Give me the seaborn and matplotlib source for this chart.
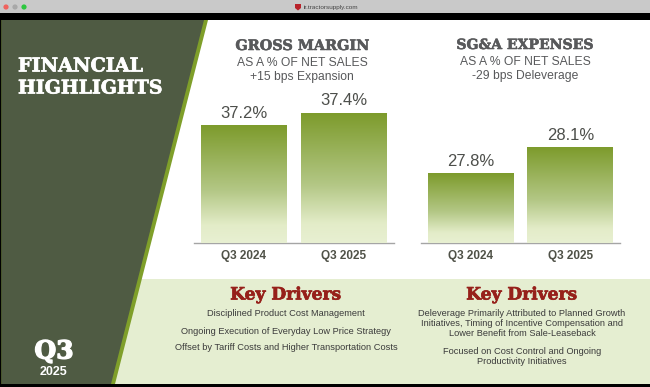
import matplotlib
matplotlib.use("Agg")
import matplotlib.pyplot as plt
import matplotlib.patheffects as pe
from matplotlib.patches import Polygon, Rectangle, Circle
from matplotlib.colors import LinearSegmentedColormap
import numpy as np
import pandas as pd
import seaborn as sns

categories = ["Q3 2024", "Q3 2025"]
gross_margin = [37.2, 37.4]
sga_expenses = [27.8, 28.1]
gm_titles = ["GROSS MARGIN", "AS A % OF NET SALES", "+15 bps Expansion"]
sga_titles = ["SG&A EXPENSES", "AS A % OF NET SALES", "-29 bps Deleverage"]
left_drivers = ["Disciplined Product Cost Management",
                "Ongoing Execution of Everyday Low Price Strategy",
                "Offset by Tariff Costs and Higher Transportation Costs"]
right_drivers = ["Deleverage Primarily Attributed to Planned Growth",
                 "Initiatives, Timing of Incentive Compensation and",
                 "Lower Benefit from Sale-Leaseback",
                 "Focused on Cost Control and Ongoing",
                 "Productivity Initiatives"]

W, H = 650, 387
sns.set_theme(style="white")
SANS = "Liberation Sans"
SLAB = "DejaVu Serif"
plt.rcParams["font.family"] = [SANS, "DejaVu Sans"]
fig = plt.figure(figsize=(6.5, 3.87), dpi=100, facecolor="white")

bg = fig.add_axes([0, 0, 1, 1], zorder=0)
bg.set_xlim(0, W); bg.set_ylim(H, 0); bg.axis("off")
bg.add_patch(Rectangle((0, 0), W, 13, color="#c9c9c9", lw=0))
bg.add_patch(Rectangle((0, 13), W, 7, color="black", lw=0))
bg.add_patch(Rectangle((0, 384), W, 3, color="black", lw=0))
bg.add_patch(Rectangle((0, 20), 1.5, 364, color="black", lw=0))
bg.add_patch(Rectangle((100, 279), W - 100, 105, color="#e5eed1", lw=0))
bg.add_patch(Polygon([(1.5, 20), (208, 20), (115, 384), (1.5, 384)], color="#7f9f2a", lw=0))
bg.add_patch(Polygon([(1.5, 20), (204, 20), (111, 384), (1.5, 384)], color="#4f5b43", lw=0))
for x, c in [(6, "#f0625d"), (15, "#a8a8a8"), (24, "#2dc73f")]:
    bg.add_patch(Circle((x, 7), 2.6, color=c, lw=0))
bg.add_patch(Polygon([(295, 4), (301, 4), (301, 8), (298, 10.5), (295, 8)], color="#b8222a", lw=0))
bg.text(304, 7, "ir.tractorsupply.com", fontsize=4.6, color="#444444", va="center", ha="left")

def slab(x, y, s, size, color, stroke=0.5, ha="left"):
    t = bg.text(x, y, s, family=SLAB, weight="bold", fontsize=size, color=color, ha=ha, va="center")
    t.set_path_effects([pe.withStroke(linewidth=stroke, foreground=color)])
    return t

slab(18, 66.5, "FINANCIAL", 13.8, "white")
slab(18, 88.5, "HIGHLIGHTS", 13.6, "white")
slab(54, 351.5, "Q3", 18, "white", 1.0, "center")
bg.text(54, 372, "2025", weight="bold", fontsize=9, color="white", va="center", ha="center")

def titles(cx, ys, lines, size):
    slab(cx, ys[0], lines[0], size, "#58595b", 0.4, "center")
    bg.text(cx, ys[1], lines[1], fontsize=8.75, color="#58595b", ha="center", va="center")
    bg.text(cx, ys[2], lines[2], fontsize=8.75, color="#58595b", ha="center", va="center")

titles(302, (46, 63, 77), gm_titles, 10.4)
titles(525, (45, 62, 76), sga_titles, 10.1)

RED = "#96201a"
slab(286, 295, "Key Drivers", 12.3, RED, 0.5, "center")
slab(522, 295, "Key Drivers", 12.3, RED, 0.5, "center")
for y, t in zip((313, 331, 347), left_drivers):
    bg.text(286, y, t, fontsize=6.7, color="#3b3b3b", ha="center", va="center")
for y, t in zip((313, 324, 334, 351, 361), right_drivers):
    bg.text(522, y, t, fontsize=6.7, color="#3b3b3b", ha="center", va="center")

cmap = LinearSegmentedColormap.from_list("g", [(0, "#7d9b2c"), (0.55, "#b3c785"), (0.85, "#e3ecc8"), (1, "#e8f0d2")])
grad = np.linspace(0, 1, 256).reshape(-1, 1)

def panel(x0, x1, values, base, top):
    ax_top, ax_bot = 90, 243
    ax = fig.add_axes([x0 / W, 1 - ax_bot / H, (x1 - x0) / W, (ax_bot - ax_top) / H], zorder=2)
    ax.patch.set_alpha(0)
    df = pd.DataFrame({"q": categories, "v": values})
    sns.barplot(data=df, x="q", y="v", ax=ax, color="#7d9b2c", width=0.86, saturation=1)
    for bar in ax.patches:
        ax.imshow(grad, cmap=cmap, aspect="auto", zorder=3, vmin=0, vmax=1,
                  extent=(bar.get_x(), bar.get_x() + bar.get_width(), base, bar.get_height()))
    ax.bar_label(ax.containers[0], fmt="%.1f%%", padding=3.5, fontsize=12, color="#4d4f4b", zorder=4)
    ax.set_xlim(-0.5, 1.5)
    ax.set_ylim(base, top)
    ax.set_xlabel(""); ax.set_ylabel("")
    ax.set_yticks([])
    ax.tick_params(axis="x", length=0, pad=5)
    for t in ax.get_xticklabels():
        t.set_fontweight("bold"); t.set_fontsize(8.5); t.set_color("#4f5147")
    sns.despine(ax=ax, left=True)
    ax.spines["bottom"].set_color("#a5a5a5")
    ax.spines["bottom"].set_linewidth(1)

panel(194, 393.5, gross_margin, 35.4, 35.4 + 153 / 65)
panel(420.6, 620.2, sga_expenses, 27.0, 27.0 + 153 / 86.7)

fig.savefig("out.png", dpi=100)
